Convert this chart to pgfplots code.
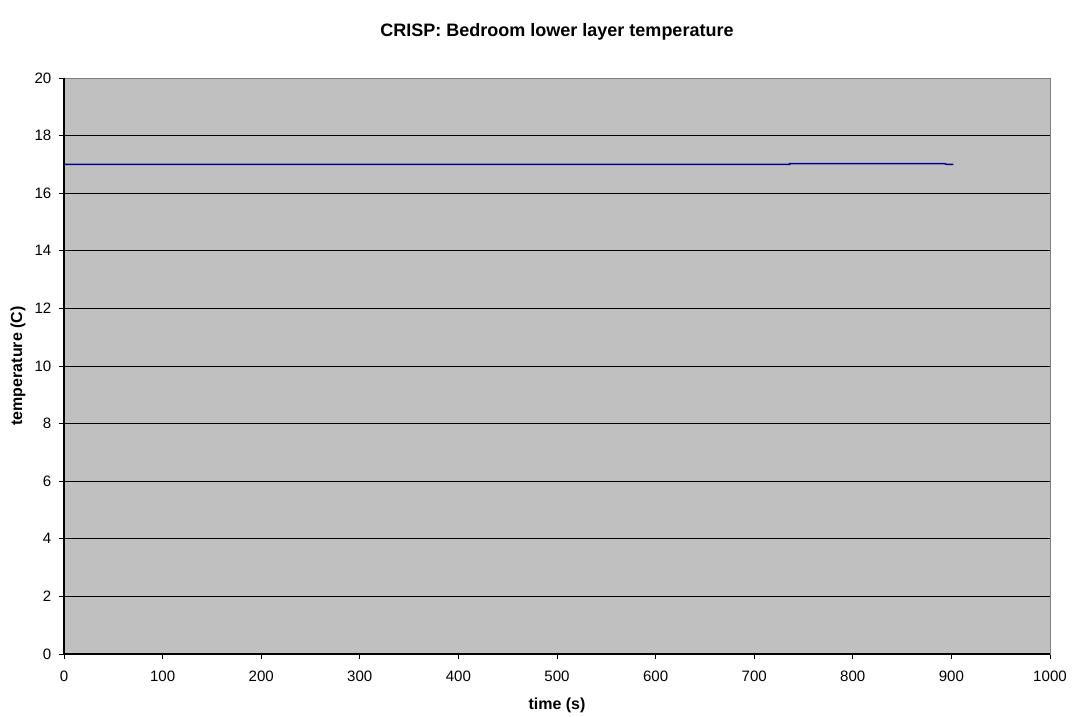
\documentclass[border=0pt]{standalone}
\usepackage{fontspec}
\setmainfont{Liberation Sans}
\usepackage{pgfplots}
\pgfplotsset{compat=1.18}
\begin{document}
\begin{tikzpicture}
\begin{axis}[name=ax,
  scale only axis, width=739.5pt, height=432pt,
  xmin=0, xmax=1000, ymin=0, ymax=20,
  xtick={0,100,...,1000}, ytick={0,2,...,20},
  /pgf/number format/1000 sep={},
  axis background/.style={fill={rgb,255:red,192;green,192;blue,192}},
  ymajorgrids, major grid style={black, line width=0.6pt},
  tick align=outside, tick pos=left, major tick length=4pt,
  tick style={black, line width=0.6pt},
  axis line style={draw={rgb,255:red,128;green,128;blue,128}, line width=0.7pt},
  every axis plot/.append style={line width=1.1pt},
  ticklabel style={font=\fontsize{11.3pt}{13pt}\selectfont},
  xticklabel style={yshift=-5.5pt},
  yticklabel style={xshift=-2pt},
  /pgf/number format/assume math mode=true,
  xlabel={\textbf{time (s)}}, ylabel={\textbf{temperature (C)}},
  label style={font=\fontsize{12pt}{14pt}\selectfont},
  xlabel style={at={(axis description cs:0.5,-0.0885)}, anchor=center},
  ylabel style={at={(axis description cs:-0.0466,0.5)}, anchor=center},
  title={\textbf{CRISP: Bedroom lower layer temperature}},
  title style={font=\fontsize{13.5pt}{16pt}\selectfont, at={(axis description cs:0.5,1.066)}, anchor=center},
]
\addplot[color={rgb,255:red,0;green,0;blue,150}, no marks] coordinates {
(0,17.00) (736,17.00) (736,17.03) (893,17.03) (895,17.00) (902,17.00)
};
\end{axis}
\draw[black, line width=0.8pt] (ax.north west) -- (ax.south west) -- (ax.south east);
\path ([xshift=-48pt,yshift=-46.5pt]ax.south west) rectangle ([xshift=16.5pt,yshift=58.5pt]ax.north east);
\end{tikzpicture}
\end{document}
